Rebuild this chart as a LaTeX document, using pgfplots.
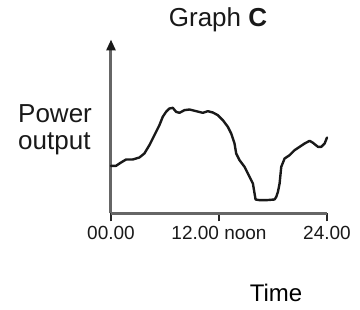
\documentclass[border=0pt]{standalone}
\usepackage{pgfplots}
\pgfplotsset{compat=1.18}
\usepackage{fontspec}
\setmainfont{Liberation Sans}
\usetikzlibrary{arrows.meta}
\begin{document}
\begin{tikzpicture}[x=1pt,y=1pt]
\path[use as bounding box] (0,0) rectangle (360,310);
\begin{axis}[
  at={(111pt,96.5pt)}, anchor=origin,
  scale only axis, width=216pt, height=174pt,
  xmin=0, xmax=24, ymin=0, ymax=522,
  axis lines=left,
  axis line style={draw=black!60, line width=3pt},
  x axis line style={-},
  y axis line style={-{Triangle[width=9pt,length=11pt,color=black!90]}},
  xtick={0,12,24}, ytick=\empty,
  xticklabels={00.00, 12.00 noon, 24.00},
  tick align=outside, major tick length=8pt,
  tick style={draw=black!85, line width=1.8pt},
  xticklabel style={font=\fontsize{19}{22}\selectfont, text=black!90, anchor=base, yshift=-18pt},
  clip=false,
]
\addplot[black!90, line width=2.4pt, line join=round, line cap=round] coordinates {
(0,143) (0.556,143) (1.113,153) (1.669,162) (2.411,162) (3.153,168) (3.709,180)
(4.266,205) (4.822,235) (5.379,265) (5.750,290) (6.121,305) (6.491,315) (6.862,317)
(7.233,305) (7.604,302) (8.161,310) (8.717,312) (9.459,307) (10.201,302) (10.757,307)
(11.314,303) (11.870,295) (12.427,280) (12.983,260) (13.354,240) (13.725,210)
(13.911,180) (14.282,160) (14.838,140) (15.394,110) (15.765,90) (15.951,60)
(16.062,42) (16.507,40) (17.249,40) (18.176,42) (18.362,50) (18.547,65) (18.733,90)
(18.918,140) (19.289,165) (19.845,175) (20.402,190) (20.958,200) (21.515,210)
(22.071,218) (22.442,212) (22.998,200) (23.369,200) (23.740,210) (24,228)
};
\end{axis}
\node[anchor=base, text=black!90, font=\fontsize{26}{30}\selectfont] at (218,283) {Graph \textbf{C}};
\node[anchor=base west, inner sep=0pt, text=black!90, font=\fontsize{26}{30}\selectfont] at (18,187) {Power};
\node[anchor=base west, inner sep=0pt, text=black!90, font=\fontsize{26}{30}\selectfont] at (18,160) {output};
\node[anchor=base, inner sep=0pt, text=black, font=\fontsize{24}{28}\selectfont] at (276,8) {Time};
\end{tikzpicture}
\end{document}
